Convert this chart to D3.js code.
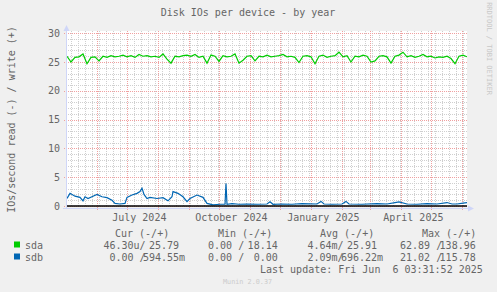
<!DOCTYPE html>
<html>
<head>
<meta charset="utf-8">
<script src="https://cdn.jsdelivr.net/npm/d3@7"></script>
<style>
body { margin: 0; background: #f0f0f0; }
text { font-family: "DejaVu Sans Mono", monospace; white-space: pre; }
</style>
</head>
<body>
<script>

// time window of the graph (400 days up to last update)
var startTime = new Date(2024, 4, 2, 3, 31, 52)
var endTime = new Date(2025, 5, 6, 3, 31, 52)

// sda write, one sample every 4 days from startTime
var sdaStep = 4
var sdaWrite = [26.0, 25.0, 25.8, 25.9, 26.4, 24.7, 25.8, 25.9, 25.2, 26.0,
	25.8, 26.1, 25.9, 26.0, 26.2, 25.9, 26.1, 25.8, 26.3, 26.0,
	26.1, 25.9, 26.0, 25.8, 26.4, 25.5, 24.8, 26.0, 25.9, 26.1,
	26.2, 26.0, 26.3, 25.8, 26.0, 24.8, 26.2, 26.0, 25.1, 26.1,
	25.9, 26.0, 26.4, 24.8, 25.3, 26.0, 26.1, 25.2, 26.0, 25.9,
	26.2, 25.9, 26.0, 26.1, 26.3, 25.9, 26.0, 25.8, 24.9, 26.0,
	26.1, 25.9, 24.7, 26.0, 26.2, 25.8, 26.0, 26.1, 26.7, 25.9,
	26.1, 25.0, 26.0, 25.9, 26.2, 26.0, 25.0, 25.2, 26.0, 26.1,
	25.9, 24.8, 26.0, 26.2, 26.7, 25.9, 26.1, 25.8, 26.0, 26.3,
	25.9, 26.0, 25.7, 25.9, 25.8, 26.0, 25.6, 24.7, 26.0, 26.2, 25.9]

// sdb write, day offsets from startTime and values
var sdbDay = [0, 3, 8, 13, 16, 18, 21, 26, 30, 35, 40, 45, 48, 53, 58, 60, 65, 70, 73, 75,
	77, 80, 83, 90, 96, 101, 105, 106, 111, 116, 120, 123, 130, 136, 140, 146, 153, 158, 159, 160,
	165, 172, 180, 190, 200, 203, 206, 215, 225, 235, 250, 254, 257, 265, 275, 279, 282, 295, 310, 320,
	328, 332, 340, 350, 360, 370, 380, 385, 390, 396, 400]
var sdbWrite = [1.3, 2.2, 1.7, 1.5, 0.9, 1.6, 1.3, 1.7, 2.0, 1.6, 1.45, 1.0, 0.45, 0.35, 0.45, 1.5, 1.9, 2.2, 2.5, 3.1,
	2.0, 1.3, 1.5, 1.3, 1.45, 0.9, 1.6, 2.5, 2.2, 1.6, 0.75, 1.3, 1.9, 1.5, 0.45, 0.2, 0.3, 0.3, 3.9, 0.3,
	0.4, 0.3, 0.35, 0.3, 0.35, 0.75, 0.3, 0.35, 0.3, 0.4, 0.35, 0.8, 0.35, 0.3, 0.35, 0.8, 0.35, 0.3, 0.4, 0.35,
	0.6, 0.7, 0.35, 0.3, 0.4, 0.35, 0.6, 0.35, 0.35, 0.5, 0.6]

var yTicks = [0, 5, 10, 15, 20, 25, 30]
var labelMonths = [new Date(2024, 6, 1), new Date(2024, 9, 1), new Date(2025, 0, 1), new Date(2025, 3, 1)]

// legend
var devices = ["sda", "sdb"]
var colors = ["#00cc00", "#0066b3"]
var headers = ["Cur (-/+)", "Min (-/+)", "Avg (-/+)", "Max (-/+)"]
var curVals = [["46.30u", "25.79"], ["0.00", "594.55m"]]
var minVals = [["0.00", "18.14"], ["0.00", "0.00"]]
var avgVals = [["4.64m", "25.91"], ["2.09m", "696.22m"]]
var maxVals = [["62.89", "138.96"], ["21.02", "115.78"]]

var svg = d3.select("body").append("svg")
	.attr("width", 497)
	.attr("height", 292)

svg.append("rect").attr("width", 497).attr("height", 292).attr("fill", "#f0f0f0")

var x = d3.scaleTime().domain([startTime, endTime]).range([67, 467])
var y = d3.scaleLinear().domain([0, 30]).range([206, 33.2])

var plotL = 67, plotR = 467, plotT = 31, plotB = 206

svg.append("rect")
	.attr("x", plotL).attr("y", plotT)
	.attr("width", plotR - plotL).attr("height", plotB - plotT)
	.attr("fill", "#ffffff")

var px = function(v) { return Math.round(v) + 0.5 }

// minor horizontal grid
var grid = svg.append("g").attr("shape-rendering", "crispEdges")
grid.selectAll(".hmin")
	.data(d3.range(1, 31).filter(function(d) { return d % 5 != 0 }))
	.enter().append("line")
	.attr("x1", plotL - 1).attr("x2", plotR)
	.attr("y1", function(d) { return px(y(d)) })
	.attr("y2", function(d) { return px(y(d)) })
	.attr("stroke", "#cfcfcf").attr("stroke-dasharray", "1,1")

// minor vertical grid (weeks)
var months = d3.timeMonth.range(startTime, endTime)
var weeks = d3.timeMonday.range(startTime, endTime).filter(function(d) { return d.getDate() != 1 })
grid.selectAll(".vmin")
	.data(weeks)
	.enter().append("line")
	.attr("x1", function(d) { return px(x(d)) })
	.attr("x2", function(d) { return px(x(d)) })
	.attr("y1", plotT).attr("y2", plotB)
	.attr("stroke", "#cfcfcf").attr("stroke-dasharray", "1,1")

// major grid
grid.selectAll(".hmaj")
	.data(yTicks)
	.enter().append("line")
	.attr("x1", plotL - 3).attr("x2", plotR)
	.attr("y1", function(d) { return px(y(d)) })
	.attr("y2", function(d) { return px(y(d)) })
	.attr("stroke", "#f0a0a0").attr("stroke-dasharray", "1,1")

grid.selectAll(".vmaj")
	.data(months)
	.enter().append("line")
	.attr("x1", function(d) { return px(x(d)) })
	.attr("x2", function(d) { return px(x(d)) })
	.attr("y1", plotT).attr("y2", plotB + 4)
	.attr("stroke", "#f0a0a0").attr("stroke-dasharray", "1,1")

// lines
svg.append("clipPath").attr("id", "clip")
	.append("rect").attr("x", plotL).attr("y", plotT).attr("width", plotR - plotL).attr("height", plotB - plotT + 1)

var line = d3.line()
	.x(function(d) { return x(d[0]) })
	.y(function(d) { return y(d[1]) })

var sdaData = sdaWrite.map(function(v, i) { return [d3.timeDay.offset(startTime, i * sdaStep), v] })
var sdbData = sdbWrite.map(function(v, i) { return [d3.timeDay.offset(startTime, sdbDay[i]), v] })

svg.append("path").datum(sdaData)
	.attr("clip-path", "url(#clip)")
	.attr("d", line).attr("fill", "none")
	.attr("stroke", colors[0]).attr("stroke-width", 1.2)

svg.append("path").datum(sdbData)
	.attr("clip-path", "url(#clip)")
	.attr("d", line).attr("fill", "none")
	.attr("stroke", colors[1]).attr("stroke-width", 1.2)

// zero line
svg.append("line")
	.attr("x1", plotL).attr("x2", plotR)
	.attr("y1", y(0)).attr("y2", y(0))
	.attr("stroke", "#000").attr("stroke-width", 1.5)

// axes
var axisCol = "#cfd6f8"
svg.append("line").attr("x1", 66.5).attr("x2", 66.5).attr("y1", 209).attr("y2", 29)
	.attr("stroke", axisCol)
svg.append("path").attr("d", "M63.5,31L69.5,31L66.5,25Z").attr("fill", axisCol)
svg.append("line").attr("x1", 63).attr("x2", 469).attr("y1", 208.5).attr("y2", 208.5)
	.attr("stroke", axisCol)
svg.append("path").attr("d", "M468,205.5L468,211.5L474,208.5Z").attr("fill", axisCol)

// texts
var font = "#666666"
svg.append("text").attr("x", 248).attr("y", 15.5)
	.attr("text-anchor", "middle").attr("font-size", 10).attr("fill", font)
	.text("Disk IOs per device - by year")

svg.selectAll(".ylab")
	.data(yTicks)
	.enter().append("text")
	.attr("x", 60).attr("y", function(d) { return y(d) + 3.6 })
	.attr("text-anchor", "end").attr("font-size", 10).attr("fill", font)
	.text(function(d) { return d })

var fmtMonth = d3.timeFormat("%B %Y")
svg.selectAll(".xlab")
	.data(labelMonths)
	.enter().append("text")
	.attr("x", function(d) { return x(d3.timeHour.offset(d, 12.5 * 24)) })
	.attr("y", 220.5)
	.attr("text-anchor", "middle").attr("font-size", 10).attr("fill", font)
	.text(function(d) { return fmtMonth(d) })

svg.append("text")
	.attr("transform", "translate(14.5,119.5) rotate(-90)")
	.attr("text-anchor", "middle").attr("font-size", 10).attr("fill", font)
	.text("IOs/second read (-) / write (+)")

svg.append("text")
	.attr("transform", "translate(486.5,48.5) rotate(90)")
	.attr("text-anchor", "middle").attr("font-size", 7).attr("fill", "#c8c8c8")
	.text("RRDTOOL / TOBI OETIKER")

// legend
var headX = [115, 218, 320, 422]
var colX = [97.4, 196, 295.4, 394]
svg.selectAll(".head")
	.data(headers)
	.enter().append("text")
	.attr("x", function(d, i) { return headX[i] })
	.attr("y", 236.5).attr("font-size", 10).attr("fill", font)
	.text(function(d) { return d })

var fmtVal = function(s) {
	var m = s.match(/^([0-9.]+)(.?)$/)
	return m[1].padStart(6, " ") + (m[2] || " ")
}

devices.forEach(function(dev, r) {
	var yy = 248.5 + r * 12
	svg.append("rect").attr("x", 14).attr("y", yy - 7).attr("width", 6).attr("height", 6)
		.attr("fill", colors[r])
	svg.append("text").attr("x", 25).attr("y", yy).attr("font-size", 10).attr("fill", font).text(dev)
	var cols = [curVals[r], minVals[r], avgVals[r], maxVals[r]]
	cols.forEach(function(v, c) {
		svg.append("text").attr("x", colX[c]).attr("y", yy).attr("font-size", 10).attr("fill", font)
			.text(fmtVal(v[0]) + "/")
		svg.append("text").attr("x", colX[c] + 45.6).attr("y", yy).attr("font-size", 10).attr("fill", font)
			.text(fmtVal(v[1]))
	})
})

svg.append("text").attr("x", 260).attr("y", 273).attr("font-size", 10).attr("fill", font)
	.text("Last update: Fri Jun  6 03:31:52 2025")

svg.append("text").attr("x", 223).attr("y", 284).attr("font-size", 6.8).attr("fill", "#cccccc")
	.text("Munin 2.0.37")

</script>
</body>
</html>
